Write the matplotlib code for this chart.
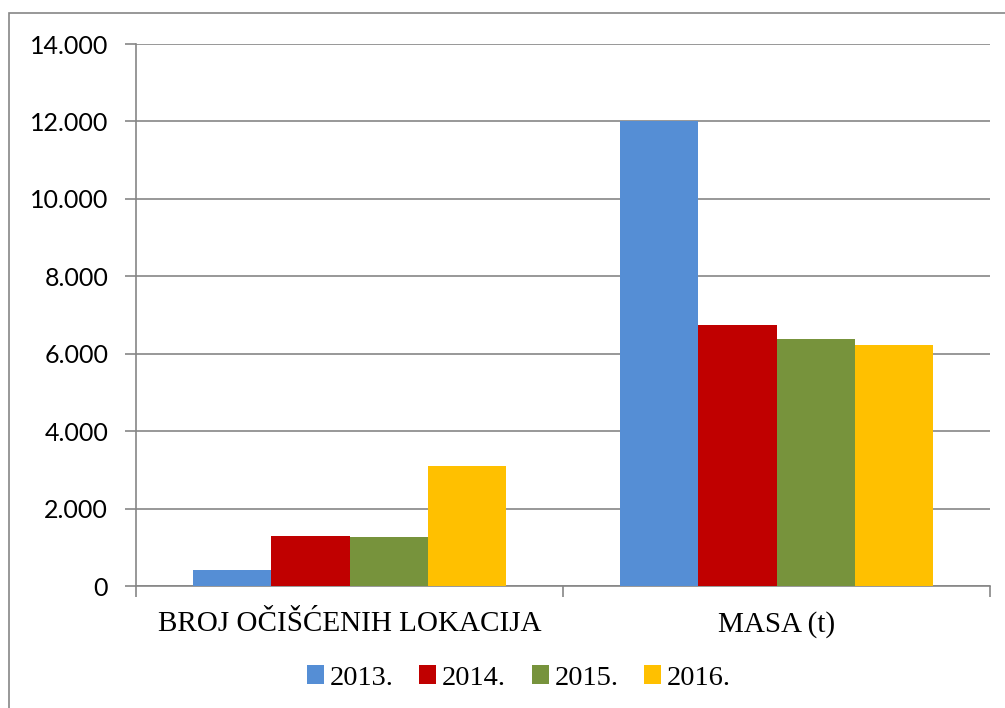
import matplotlib
matplotlib.use('Agg')
import matplotlib.pyplot as plt
from matplotlib.patches import Rectangle
from matplotlib.ticker import FuncFormatter
import numpy as np

categories = ['BROJ OČIŠĆENIH LOKACIJA', 'MASA (t)']
years = ['2013.', '2014.', '2015.', '2016.']
values = {
    '2013.': [410, 12000],
    '2014.': [1290, 6730],
    '2015.': [1260, 6390],
    '2016.': [3100, 6220],
}
colors = ['#558ed5', '#c00000', '#77933c', '#ffc000']

fig = plt.figure(figsize=(10.05, 7.08), dpi=100)
W, H = 1005, 708
ax = fig.add_axes([136 / W, 1 - 586 / H, (990 - 136) / W, (586 - 44) / H])

# outer frame of the chart area
fig.patches.append(Rectangle((9 / W, -0.1), 1.2, 1 - 13 / H + 0.1, transform=fig.transFigure,
                             fill=False, edgecolor='#868686', linewidth=1.2))

x = np.arange(len(categories))
bw = 0.183
for i, yr in enumerate(years):
    ax.bar(x + (i - 1.5) * bw, values[yr], bw, color=colors[i], label=yr, zorder=3)

ax.set_xlim(-0.5, 1.5)
ax.set_ylim(0, 14000)
ax.set_yticks(np.arange(0, 14001, 2000))
ax.yaxis.set_major_formatter(FuncFormatter(lambda v, p: f'{int(v):,}'.replace(',', '.')))
ax.grid(axis='y', color='#868686', linewidth=1.2, zorder=0)

for s in ['top', 'right']:
    ax.spines[s].set_visible(False)
for s in ['left', 'bottom']:
    ax.spines[s].set_color('#868686')
    ax.spines[s].set_linewidth(1.2)

ax.set_xticks([-0.5, 0.5, 1.5], minor=False)
ax.set_xticklabels([])
ax.set_xticks(x, minor=True)
ax.set_xticklabels(categories, minor=True, fontfamily='Liberation Serif', fontsize=21)
ax.tick_params(axis='x', which='major', length=8, color='#868686', width=1.2)
ax.tick_params(axis='x', which='minor', length=0, pad=18)
ax.tick_params(axis='y', length=8, color='#868686', width=1.2, labelsize=18, pad=12)
for lbl in ax.get_yticklabels():
    lbl.set_fontfamily('Lato')

ax.legend(loc='center', bbox_to_anchor=(519 / W, 1 - 678 / H), bbox_transform=fig.transFigure,
          ncol=4, frameon=False, prop={'family': 'Liberation Serif', 'size': 20.5},
          handlelength=0.6, handleheight=0.6, handletextpad=0.2, columnspacing=0.9)

fig.savefig('out.png', dpi=100)
